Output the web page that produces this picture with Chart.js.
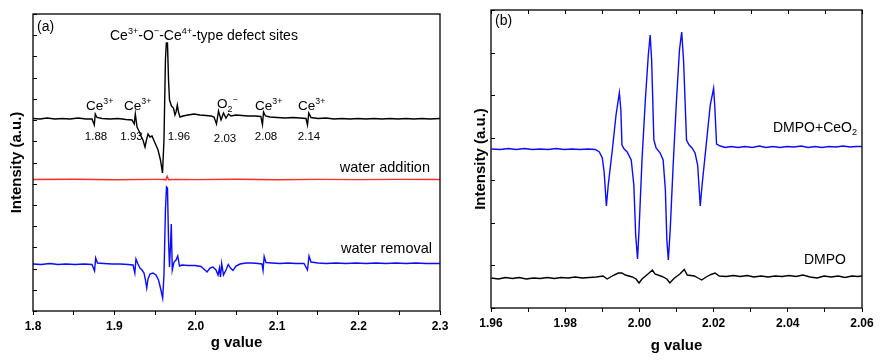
<!DOCTYPE html>
<html>
<head>
<meta charset="utf-8">
<title>EPR spectra</title>
<script src="https://cdn.jsdelivr.net/npm/chart.js@4.4.1/dist/chart.umd.min.js"></script>
<style>
  html, body { margin: 0; padding: 0; background: #fff; }
  #wrap { position: relative; width: 890px; height: 363px; overflow: hidden; }
  canvas { position: absolute; top: 0; }
  #chartA { left: 0; }
  #chartB { left: 445px; }
</style>
</head>
<body>
<div id="wrap">
  <canvas id="chartA" width="460" height="363"></canvas>
  <canvas id="chartB" width="445" height="363"></canvas>
</div>
<script>
// ---- Panel (a): g value vs intensity (a.u.) ----
const blackA = [
  [1.8000, 192.5], [1.8086, 192], [1.8172, 193], [1.8270, 192], [1.8356, 192.5], [1.8455, 192],
  [1.8553, 193], [1.8651, 192], [1.8725, 192], [1.8753, 186], [1.8765, 197], [1.8786, 193.5],
  [1.8848, 192.5], [1.8946, 192], [1.9044, 192.5], [1.9143, 191.5], [1.9216, 191], [1.9244, 187],
  [1.9257, 197], [1.9278, 184], [1.9302, 180], [1.9333, 174], [1.9351, 171], [1.9376, 164],
  [1.9394, 171], [1.9413, 177], [1.9437, 174], [1.9462, 175], [1.9499, 168], [1.9536, 161],
  [1.9566, 151], [1.9591, 138], [1.9609, 171], [1.9627, 251], [1.9638, 268], [1.9652, 268],
  [1.9665, 231], [1.9677, 211], [1.9701, 205], [1.9726, 203], [1.9744, 196], [1.9757, 199],
  [1.9773, 206], [1.9787, 199], [1.9806, 194], [1.9843, 195], [1.9904, 196], [1.9978, 197],
  [2.0052, 196], [2.0125, 195.5], [2.0187, 195], [2.0224, 194], [2.0254, 187], [2.0279, 200],
  [2.0310, 191], [2.0340, 198], [2.0371, 193], [2.0402, 197], [2.0432, 195], [2.0494, 196],
  [2.0568, 195.5], [2.0641, 195], [2.0727, 195], [2.0799, 194.5], [2.0819, 186.5], [2.0832, 199],
  [2.0856, 195], [2.0912, 194], [2.0998, 193.5], [2.1096, 193], [2.1194, 193.5], [2.1280, 193],
  [2.1354, 192.5], [2.1372, 186], [2.1388, 198], [2.1415, 193.5], [2.1501, 192.5], [2.1600, 193],
  [2.1698, 192], [2.1796, 192.5], [2.1894, 192], [2.1993, 192.5], [2.2091, 192], [2.2189, 192.5],
  [2.2287, 192], [2.2386, 192.5], [2.2484, 192], [2.2582, 192.5], [2.2680, 192], [2.2779, 192.5],
  [2.2877, 192], [2.3000, 192.5]
];

const redA = [
  [1.8000, 131.5], [1.8500, 131.8], [1.9000, 131.3], [1.9500, 131.6], [1.9615, 131.5],
  [1.9632, 131.0], [1.9648, 134.8], [1.9665, 131.2], [1.9750, 131.6], [2.0000, 131.4],
  [2.0500, 131.7], [2.1000, 131.3], [2.1500, 131.6], [2.2000, 131.4], [2.2500, 131.6], [2.3000, 131.5]
];

const blueA = [
  [1.8000, 47], [1.8098, 46.5], [1.8209, 47.5], [1.8307, 46.5], [1.8405, 47], [1.8516, 46.5],
  [1.8627, 47], [1.8725, 46.5], [1.8756, 40], [1.8770, 53], [1.8792, 48], [1.8872, 47.5],
  [1.8971, 47], [1.9069, 47], [1.9167, 46.5], [1.9229, 46], [1.9251, 38], [1.9265, 52],
  [1.9290, 47], [1.9314, 43], [1.9339, 41], [1.9364, 38], [1.9382, 31], [1.9397, 23],
  [1.9413, 32], [1.9437, 37], [1.9474, 38], [1.9511, 36], [1.9542, 31], [1.9566, 23],
  [1.9593, 13], [1.9609, 36], [1.9627, 101], [1.9640, 124], [1.9652, 123], [1.9665, 71],
  [1.9677, 44], [1.9689, 66], [1.9699, 87], [1.9711, 41], [1.9732, 49], [1.9757, 51],
  [1.9778, 55], [1.9800, 45], [1.9830, 46], [1.9904, 45.5], [1.9990, 45.5], [2.0064, 44.5],
  [2.0113, 41], [2.0138, 39], [2.0174, 43], [2.0211, 44], [2.0248, 41], [2.0273, 36],
  [2.0291, 43], [2.0303, 34], [2.0318, 47.5], [2.0340, 36], [2.0371, 41], [2.0399, 46.5],
  [2.0426, 43], [2.0457, 40.5], [2.0494, 45], [2.0543, 47], [2.0617, 48], [2.0690, 48],
  [2.0764, 47.5], [2.0813, 47], [2.0826, 40.5], [2.0840, 54.5], [2.0862, 48.5], [2.0936, 48],
  [2.1034, 47.5], [2.1133, 48], [2.1231, 47.5], [2.1329, 47.5], [2.1372, 41], [2.1391, 55],
  [2.1415, 49], [2.1501, 48], [2.1600, 47.5], [2.1722, 48], [2.1845, 47.5], [2.1968, 48],
  [2.2091, 47.5], [2.2214, 48], [2.2337, 47.5], [2.2459, 48], [2.2582, 47.5], [2.2705, 48],
  [2.2828, 47.5], [2.3000, 47.5]
];

// ---- Panel (b): DMPO spin trap ----
const dmpoCeO2 = [
  [1.9601, 159], [1.9625, 158.5], [1.9647, 159.5], [1.9668, 158.5], [1.9690, 159.5], [1.9711, 158.5],
  [1.9733, 159], [1.9754, 158.5], [1.9776, 159.5], [1.9797, 158.5], [1.9819, 159], [1.9840, 158.5],
  [1.9862, 159], [1.9881, 158.5], [1.9892, 156], [1.9900, 150], [1.9905, 136], [1.9911, 102],
  [1.9916, 123], [1.9927, 158], [1.9937, 193], [1.9946, 215.3], [1.9950, 198], [1.9953, 163],
  [1.9959, 159], [1.9967, 156], [1.9978, 148], [1.9985, 123], [1.9990, 73], [1.9995, 49],
  [1.9999, 78], [2.0007, 148], [2.0016, 208], [2.0024, 253], [2.0029, 273], [2.0033, 248],
  [2.0039, 168], [2.0045, 160], [2.0056, 155], [2.0064, 148], [2.0070, 118], [2.0074, 68],
  [2.0078, 48], [2.0083, 78], [2.0091, 143], [2.0100, 208], [2.0108, 258], [2.0114, 276],
  [2.0119, 248], [2.0127, 168], [2.0134, 163], [2.0142, 160], [2.0150, 155], [2.0157, 143],
  [2.0164, 102], [2.0169, 123], [2.0180, 163], [2.0191, 203], [2.0200, 219.7], [2.0203, 203],
  [2.0208, 164], [2.0218, 162], [2.0232, 160.5], [2.0247, 161.5], [2.0266, 160.5], [2.0285, 161.5],
  [2.0304, 160.5], [2.0323, 162], [2.0341, 160.5], [2.0360, 161.5], [2.0379, 160.5], [2.0398, 161.5],
  [2.0417, 161], [2.0436, 162], [2.0455, 160.5], [2.0473, 161.5], [2.0492, 160.5], [2.0511, 161.5],
  [2.0530, 161], [2.0549, 162], [2.0568, 161], [2.0584, 161.5], [2.0600, 161.5]
];

const dmpo = [
  [1.9601, 30], [1.9620, 29], [1.9639, 30.5], [1.9658, 29.5], [1.9676, 30.5], [1.9695, 29],
  [1.9714, 30], [1.9733, 29.5], [1.9752, 30.5], [1.9771, 29.5], [1.9789, 30.5], [1.9808, 30],
  [1.9827, 31], [1.9846, 30], [1.9865, 30.5], [1.9884, 31], [1.9902, 32], [1.9913, 29],
  [1.9929, 32.5], [1.9943, 35], [1.9953, 35], [1.9962, 33], [1.9981, 31], [1.9991, 29],
  [1.9999, 25], [2.0007, 29], [2.0023, 34], [2.0035, 38], [2.0042, 34], [2.0061, 31.5],
  [2.0074, 29], [2.0082, 25], [2.0093, 29.5], [2.0109, 34], [2.0121, 38.5], [2.0129, 33],
  [2.0148, 32], [2.0158, 30], [2.0168, 28], [2.0180, 31], [2.0193, 33.5], [2.0204, 35],
  [2.0215, 32], [2.0234, 31.5], [2.0253, 32.5], [2.0272, 31.5], [2.0290, 32.5], [2.0309, 31],
  [2.0328, 32], [2.0347, 31], [2.0366, 32], [2.0385, 31.5], [2.0403, 32.5], [2.0422, 31.5],
  [2.0441, 33], [2.0460, 31], [2.0479, 30], [2.0498, 32], [2.0517, 31], [2.0536, 32],
  [2.0554, 30.5], [2.0573, 32], [2.0589, 31.5], [2.0600, 32]
];

// axis ranges / ticks
const rangeA = [1.8, 2.3];
const rangeB = [1.96, 2.06];
const majorStepA = 0.1, minorStepA = 0.05;
const majorStepB = 0.02, minorStepB = 0.01;

const FONT = '"Liberation Sans", Arial, sans-serif';
const NARROW = '"Liberation Sans Narrow", "Liberation Sans", Arial, sans-serif';

const toXY = arr => arr.map(p => ({ x: p[0], y: p[1] }));

// frame + inward ticks on the left (and optionally top)
const framePlugin = {
  id: 'frame',
  afterDatasetsDraw(chart, args, opts) {
    const { ctx, chartArea: a, scales: { x, y } } = chart;
    ctx.save();
    ctx.strokeStyle = '#000';
    ctx.lineWidth = 1;
    ctx.beginPath();
    y.ticks.forEach(t => {
      const py = Math.round(y.getPixelForValue(t.value)) + 0.5;
      ctx.moveTo(a.left, py);
      ctx.lineTo(a.left + 4, py);
    });
    if (opts.topTicks) {
      x.ticks.forEach(t => {
        const px = Math.round(x.getPixelForValue(t.value)) + 0.5;
        ctx.moveTo(px, a.top);
        ctx.lineTo(px, a.top + 4);
      });
    }
    ctx.stroke();
    ctx.lineWidth = 1.3;
    ctx.strokeRect(a.left, a.top, a.right - a.left, a.bottom - a.top);
    ctx.restore();
  }
};

// text with super/subscripts
function drawRich(ctx, x, y, parts, size, align) {
  const sub = size * 0.65;
  let w = 0;
  parts.forEach(p => {
    ctx.font = (p[1] ? sub : size) + 'px ' + FONT;
    w += ctx.measureText(p[0]).width;
  });
  let cx = align === 'right' ? x - w : (align === 'center' ? x - w / 2 : x);
  parts.forEach(p => {
    const s = p[1] ? sub : size;
    ctx.font = s + 'px ' + FONT;
    let dy = 0;
    if (p[1] === 'sup') dy = -size * 0.42;
    if (p[1] === 'sub') dy = size * 0.28;
    ctx.fillText(p[0], cx, y + dy);
    cx += ctx.measureText(p[0]).width;
  });
}

const labelPlugin = {
  id: 'labels',
  afterDraw(chart, args, opts) {
    const ctx = chart.ctx;
    ctx.save();
    ctx.fillStyle = '#000';
    ctx.textBaseline = 'alphabetic';
    ctx.textAlign = 'left';
    opts.items.forEach(it => drawRich(ctx, it.x, it.y, it.parts, it.size, it.align));
    ctx.restore();
  }
};

function xAxis(range, minor, major, decimals, height, titlePad) {
  return {
    type: 'linear',
    min: range[0],
    max: range[1],
    afterFit: s => { s.height = height; },
    border: { display: false },
    grid: { display: true, drawOnChartArea: false, drawTicks: true, tickLength: 4, color: '#000', lineWidth: 1 },
    ticks: {
      stepSize: minor,
      autoSkip: false,
      maxRotation: 0,
      padding: 4,
      color: '#000',
      font: { family: NARROW, size: 12, weight: 'bold' },
      callback: v => {
        const n = Math.round(v / minor);
        const k = Math.round(major / minor);
        return n % k === 0 ? v.toFixed(decimals) : '';
      }
    },
    title: {
      display: true,
      text: 'g value',
      color: '#000',
      font: { family: NARROW, size: 15, weight: 'bold' },
      padding: { top: 0, bottom: titlePad }
    }
  };
}

function yAxis(max, step, width, titlePad) {
  return {
    type: 'linear',
    min: 0,
    max: max,
    afterFit: s => { s.width = width; },
    border: { display: false },
    grid: { display: false },
    ticks: { display: false, stepSize: step },
    title: {
      display: true,
      text: 'Intensity (a.u.)',
      color: '#000',
      font: { family: FONT, size: 15, weight: 'bold' },
      padding: { top: titlePad, bottom: 0 }
    }
  };
}

function line(data, color) {
  return {
    data: toXY(data),
    borderColor: color,
    borderWidth: 1.4,
    pointRadius: 0,
    tension: 0,
    fill: false
  };
}

const ce3 = [['Ce', ''], ['3+', 'sup']];

new Chart(document.getElementById('chartA'), {
  type: 'line',
  data: {
    datasets: [
      line(blackA, '#000000'),
      line(redA, '#ff2a2a'),
      line(blueA, '#0b0bff')
    ]
  },
  options: {
    responsive: false,
    animation: false,
    layout: { padding: { left: 0, right: 20, top: 14, bottom: 0 } },
    plugins: {
      legend: { display: false },
      tooltip: { enabled: false },
      frame: { topTicks: false },
      labels: {
        items: [
          { x: 37, y: 31, size: 14, parts: [['(a)', '']] },
          { x: 110, y: 40, size: 14, parts: [['Ce', ''], ['3+', 'sup'], ['-O', ''], ['\u2212', 'sup'], ['-Ce', ''], ['4+', 'sup'], ['-type defect sites', '']] },
          { x: 86, y: 110, size: 13.5, parts: ce3 },
          { x: 124, y: 110, size: 13.5, parts: ce3 },
          { x: 217, y: 108, size: 13.5, parts: [['O', ''], ['2', 'sub'], ['\u2212', 'sup']] },
          { x: 255, y: 110, size: 13.5, parts: ce3 },
          { x: 298, y: 110, size: 13.5, parts: ce3 },
          { x: 96, y: 139.5, size: 11.5, align: 'center', parts: [['1.88', '']] },
          { x: 131.5, y: 140, size: 11.5, align: 'center', parts: [['1.93', '']] },
          { x: 179, y: 140, size: 11.5, align: 'center', parts: [['1.96', '']] },
          { x: 225, y: 142, size: 11.5, align: 'center', parts: [['2.03', '']] },
          { x: 266, y: 139.5, size: 11.5, align: 'center', parts: [['2.08', '']] },
          { x: 309, y: 140, size: 11.5, align: 'center', parts: [['2.14', '']] },
          { x: 430, y: 171.5, size: 14.5, align: 'right', parts: [['water addition', '']] },
          { x: 432, y: 252.5, size: 14.5, align: 'right', parts: [['water removal', '']] }
        ]
      }
    },
    scales: {
      x: xAxis(rangeA, minorStepA, majorStepA, 1, 52, 11),
      y: yAxis(297, 297 / 14, 33, 8)
    }
  },
  plugins: [framePlugin, labelPlugin]
});

new Chart(document.getElementById('chartB'), {
  type: 'line',
  data: {
    datasets: [
      line(dmpoCeO2, '#0b0bff'),
      line(dmpo, '#000000')
    ]
  },
  options: {
    responsive: false,
    animation: false,
    layout: { padding: { left: 0, right: 28, top: 10, bottom: 0 } },
    plugins: {
      legend: { display: false },
      tooltip: { enabled: false },
      frame: { topTicks: true },
      labels: {
        items: [
          { x: 50, y: 25, size: 14, parts: [['(b)', '']] },
          { x: 412, y: 131.5, size: 14, align: 'right', parts: [['DMPO+CeO', ''], ['2', 'sub']] },
          { x: 401, y: 264, size: 14, align: 'right', parts: [['DMPO', '']] }
        ]
      }
    },
    scales: {
      x: xAxis(rangeB, minorStepB, majorStepB, 2, 55, 8),
      y: yAxis(298, 298 / 7, 46, 27)
    }
  },
  plugins: [framePlugin, labelPlugin]
});
</script>
</body>
</html>
